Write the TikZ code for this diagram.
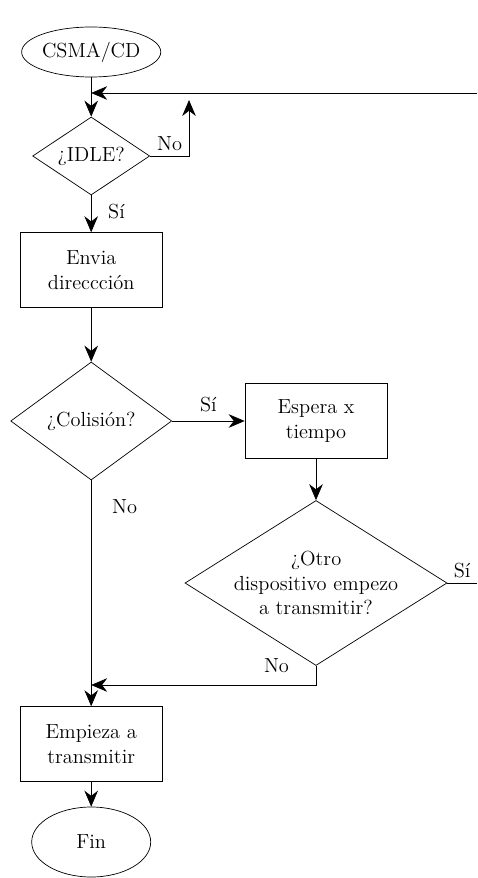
\documentclass[tikz,border=0pt]{standalone}
\usetikzlibrary{shapes.geometric, positioning, arrows.meta}

\begin{document}
\begin{tikzpicture}[
    >={Stealth[length=0.4cm, width=0.34cm]},
    line width=0.5pt,
    every node/.style={font=\fontsize{14.5}{17.5}\selectfont},
    terminal/.style={
        draw, ellipse, minimum width=2.975cm, inner sep=0pt
    },
    process/.style={
        draw, rectangle, minimum width=3.55cm, minimum height=1.87cm,
        align=center, inner sep=0pt
    },
    decision/.style={
        draw, diamond, align=center, inner sep=0pt
    }
]

\useasboundingbox (0, 0) rectangle (11.925, -21.95);

% -------------------------
% Nodes
% -------------------------

% 1. Start
\node[terminal, minimum height=1.25cm] (CSMA) at (2.28, -1.3) {CSMA/CD};

% 2. Channel free?
\node[decision, shape aspect=1.5, minimum width=2.925cm, minimum height=1.95cm] (Idle) at (2.28, -3.9) {¿IDLE?};

% 3. Send address
\node[process] (Envia) at (2.28, -6.75) {Envia\\direccción};

% 4. Collision?
\node[decision, shape aspect=1.36, minimum width=4.025cm, minimum height=2.95cm] (Colision) at (2.28, -10.525) {¿Colisión?};

% 5. Wait (Right)
\node[process] (Espera) at (7.9, -10.525) {Espera x\\tiempo};

% 6. Other device? (Right)
\node[decision, shape aspect=1.59, minimum width=6.55cm, minimum height=4.125cm,
      label={[align=center]center:¿Otro\\dispositivo empezo\\a transmitir?}] (Otro) at (7.9, -14.575) {};

% 7. Transmit
\node[process] (Empieza) at (2.28, -18.6) {Empieza a\\transmitir};

% 8. End
\node[terminal, minimum height=1.75cm] (Fin) at (2.28, -21.05) {Fin};

% Join points and free ends
\coordinate (TopJoin) at (2.28, -2.325);
\coordinate (BotJoin) at (2.28, -17.125);
\coordinate (IdleBack) at (4.725, -2.5);
\coordinate (RightTop) at (11.925, -2.325);

% -------------------------
% Connections
% -------------------------

\draw[->] (CSMA.south) -- (Idle.north);
\draw[->] (RightTop) -- (TopJoin);

% IDLE: No -> back up, Si -> send
\draw[->] (Idle.east) -| node[pos=0.25, above] {No} (IdleBack);
\draw[->] (Idle.south) -- node[pos=0.45, right=0.3cm] {Sí} (Envia.north);

\draw[->] (Envia.south) -- (Colision.north);

% Collision: Si -> wait, No -> transmit
\draw[->] (Colision.east) -- node[midway, above=0.1cm] {Sí} (Espera.west);
\draw (Colision.south) -- node[pos=0.13, right=0.4cm] {No} (BotJoin);

\draw[->] (Espera.south) -- (Otro.north);

% Other device: Si -> loop, No -> transmit
\draw (Otro.east) -- node[midway, above] {Sí} (Otro.east -| RightTop);
\draw[->] (Otro.south) |- node[pos=0, left=0.55cm] {No} (BotJoin);

\draw[->] (BotJoin) -- (Empieza.north);
\draw[->] (Empieza.south) -- (Fin.north);

\end{tikzpicture}
\end{document}
